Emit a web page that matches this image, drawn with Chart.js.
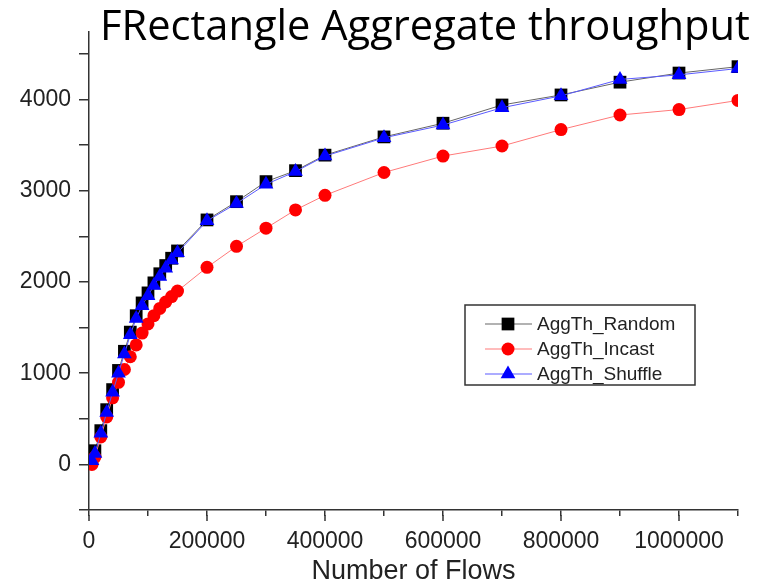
<!DOCTYPE html>
<html>
<head>
<meta charset="utf-8">
<script src="https://cdn.jsdelivr.net/npm/chart.js@4.4.0/dist/chart.umd.min.js"></script>
<style>
  html, body { margin: 0; padding: 0; background: #fff; }
</style>
</head>
<body>
<canvas id="aggChart" width="759" height="585"></canvas>
<script>
// data
const chartTitle = "FRectangle Aggregate throughput";
const xTitle = "Number of Flows";
const seriesLabels = ["AggTh_Random", "AggTh_Incast", "AggTh_Shuffle"];

const flows = [5000, 10000, 20000, 30000, 40000, 50000, 60000, 70000, 80000, 90000,
  100000, 110000, 120000, 130000, 140000, 150000, 200000, 250000, 300000, 350000,
  400000, 500000, 600000, 700000, 800000, 900000, 1000000, 1100000];

const aggRandom = [60, 150, 370, 600, 820, 1030, 1240, 1450, 1630, 1770,
  1880, 1990, 2090, 2180, 2260, 2340, 2680, 2880, 3100, 3220,
  3390, 3590, 3740, 3940, 4050, 4190, 4290, 4360];

const aggIncast = [0, 80, 300, 520, 730, 900, 1040, 1180, 1310, 1440,
  1540, 1630, 1710, 1780, 1840, 1900, 2160, 2390, 2590, 2790,
  2950, 3200, 3380, 3490, 3670, 3830, 3890, 3990];

const aggShuffle = [40, 120, 340, 570, 790, 1000, 1210, 1420, 1600, 1740,
  1850, 1960, 2060, 2150, 2240, 2320, 2670, 2860, 3070, 3210,
  3380, 3580, 3720, 3910, 4040, 4220, 4270, 4340];

// y ticks every 500, labels only on the thousands
const yTicks = [-500, 0, 500, 1000, 1500, 2000, 2500, 3000, 3500, 4000, 4500];
const yLabelStep = 1000;
const xLabelStep = 200000; // labelled x ticks: 0, 200000 ... 1000000

function pts(vals) {
  return flows.map((f, i) => ({ x: f, y: vals[i] }));
}

Chart.defaults.font.family = "'Liberation Sans', Arial, sans-serif";
Chart.defaults.color = "#222";

// title sits over the plot, drawn by hand
const topTitle = {
  id: "topTitle",
  afterDraw(chart) {
    const ctx = chart.ctx;
    ctx.save();
    ctx.font = "40px 'Open Sans'";
    const w = ctx.measureText(chartTitle).width;
    const size = 40 * 650 / w;
    ctx.font = size + "px 'Open Sans'";
    ctx.fillStyle = "#000";
    ctx.textBaseline = "alphabetic";
    ctx.fillText(chartTitle, 100, 40);
    ctx.restore();
  }
};

// longer ticks for the labelled x values
const majorTicks = {
  id: "majorTicks",
  afterDraw(chart) {
    const sx = chart.scales.x;
    const ctx = chart.ctx;
    ctx.save();
    ctx.strokeStyle = "#333";
    ctx.lineWidth = 1.5;
    sx.ticks.forEach(t => {
      if (Math.round(t.value) % xLabelStep !== 0) return;
      const px = sx.getPixelForValue(t.value);
      ctx.beginPath();
      ctx.moveTo(px, sx.top + 5);
      ctx.lineTo(px, sx.top + 11);
      ctx.stroke();
    });
    ctx.restore();
  }
};

// boxed legend inside the plot area
const boxLegend = {
  id: "boxLegend",
  afterDatasetsDraw(chart) {
    const ctx = chart.ctx;
    ctx.save();
    ctx.fillStyle = "#fff";
    ctx.fillRect(465, 305, 230, 80);
    ctx.strokeStyle = "#333";
    ctx.lineWidth = 1.5;
    ctx.strokeRect(465, 305, 230, 80);
    ctx.font = "19px 'Liberation Sans'";
    ctx.textBaseline = "middle";
    chart.data.datasets.forEach((d, i) => {
      const y = 324 + i * 25;
      ctx.strokeStyle = d.borderColor;
      ctx.lineWidth = 1.2;
      ctx.beginPath();
      ctx.moveTo(485, y);
      ctx.lineTo(532, y);
      ctx.stroke();
      ctx.fillStyle = d.pointBackgroundColor;
      Chart.helpers.drawPoint(ctx, {
        pointStyle: d.pointStyle, radius: d.pointRadius, rotation: 0, borderWidth: 0
      }, 508, y);
      ctx.fillStyle = "#222";
      ctx.fillText(d.label, 537, y + 1);
    });
    ctx.restore();
  }
};

const ctx = document.getElementById("aggChart").getContext("2d");

const chart = new Chart(ctx, {
  type: "line",
  data: {
    datasets: [
      {
        label: seriesLabels[0],
        data: pts(aggRandom),
        borderColor: "#666",
        borderWidth: 1,
        pointStyle: "rect",
        pointRadius: 9,
        pointBackgroundColor: "#000",
        pointBorderWidth: 0,
        order: 2
      },
      {
        label: seriesLabels[1],
        data: pts(aggIncast),
        borderColor: "#ff7a7a",
        borderWidth: 1,
        pointStyle: "circle",
        pointRadius: 6.5,
        pointBackgroundColor: "#ff0000",
        pointBorderWidth: 0,
        order: 1
      },
      {
        label: seriesLabels[2],
        data: pts(aggShuffle),
        borderColor: "#5a5aff",
        borderWidth: 1,
        pointStyle: "triangle",
        pointRadius: 8.5,
        pointBackgroundColor: "#0000ff",
        pointBorderWidth: 0,
        order: 0
      }
    ]
  },
  options: {
    responsive: false,
    animation: false,
    layout: { padding: { top: 32, right: 21, left: 0, bottom: 0 } },
    plugins: {
      legend: { display: false },
      title: { display: false },
      tooltip: { enabled: false }
    },
    scales: {
      x: {
        type: "linear",
        min: 0,
        max: 1100000,
        afterFit(scale) { scale.height = 75; },
        border: { display: true, color: "#333", width: 1.5 },
        grid: { drawOnChartArea: false, drawTicks: true, tickLength: 6, color: "#333", lineWidth: 1.5 },
        ticks: {
          stepSize: 100000,
          autoSkip: false,
          maxRotation: 0,
          padding: 12,
          font: { size: 23 },
          callback: v => (Math.round(v) % xLabelStep === 0 ? String(Math.round(v)) : "")
        },
        title: {
          display: true,
          text: xTitle,
          color: "#222",
          font: { size: 27, lineHeight: 1 },
          padding: { top: 0, bottom: 0 }
        }
      },
      y: {
        min: -500,
        max: 4740,
        afterFit(scale) { scale.width = 89; },
        afterBuildTicks(scale) { scale.ticks = yTicks.map(v => ({ value: v })); },
        border: { display: true, color: "#333", width: 1.5 },
        grid: { drawOnChartArea: false, drawTicks: true, tickLength: 10, color: "#333", lineWidth: 1.5 },
        ticks: {
          autoSkip: false,
          padding: 8,
          font: { size: 23 },
          callback: v => (Math.round(v) % yLabelStep === 0 ? String(Math.round(v)) : "")
        }
      }
    }
  },
  plugins: [topTitle, majorTicks, boxLegend]
});
</script>
</body>
</html>
